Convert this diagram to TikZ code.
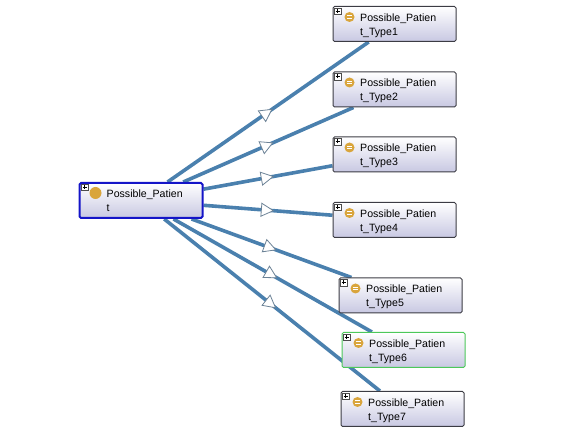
\documentclass[tikz,border=0pt]{standalone}
\usepackage{fontspec}
\setmainfont{Liberation Sans}
\usepackage{xcolor}
\usetikzlibrary{arrows.meta,positioning,backgrounds,shapes.geometric}
\definecolor{linkblue}{HTML}{4A80AE}
\definecolor{iconyellow}{HTML}{D9A53C}
\definecolor{boxlow}{HTML}{C8C8E2}
\definecolor{boxedge}{HTML}{3C3C44}
\definecolor{mainedge}{HTML}{1414C8}
\definecolor{pickedge}{HTML}{4CC85A}
\definecolor{triedge}{HTML}{6C8296}

\begin{document}
\begin{tikzpicture}[
  x=1pt,y=-1pt,
  classbox/.style={draw=boxedge,line width=1pt,rounded corners=1.5pt,top color=white,bottom color=boxlow,
    minimum width=123pt,minimum height=35pt,inner sep=0pt},
  mainbox/.style={classbox,draw=mainedge,line width=2pt},
  pickbox/.style={classbox,draw=pickedge},
  boxtext/.style={anchor=north west,align=left,inner sep=0pt,font=\fontsize{10.6}{14}\selectfont},
  plusbox/.style={draw=black!70,fill=white,line width=0.4pt,minimum size=6.5pt,inner sep=0pt,
    path picture={\draw[black,line width=0.6pt]
      ([xshift=-2pt]path picture bounding box.center) -- ([xshift=2pt]path picture bounding box.center)
      ([yshift=-2pt]path picture bounding box.center) -- ([yshift=2pt]path picture bounding box.center);}},
  defined/.style={circle,fill=iconyellow,minimum size=10pt,inner sep=0pt,
    path picture={\draw[white,line width=0.9pt]
      ([shift={(-2.5pt,1.3pt)}]path picture bounding box.center) -- ([shift={(2.5pt,1.3pt)}]path picture bounding box.center)
      ([shift={(-2.5pt,-1.3pt)}]path picture bounding box.center) -- ([shift={(2.5pt,-1.3pt)}]path picture bounding box.center);}},
  primitive/.style={circle,fill=iconyellow,minimum size=12pt,inner sep=0pt},
  link/.style={linkblue,line width=3.6pt},
  hollow/.style={isosceles triangle,isosceles triangle stretches,draw=triedge,fill=white,line width=0.8pt,
    minimum width=13pt,minimum height=12pt,inner sep=0pt,sloped,allow upside down}
]
  \useasboundingbox (0,0) rectangle (584,435);

  \node[mainbox] (main) at (141,200.5) {};
  \node[classbox] (type1) at (394.5,24) {};
  \node[classbox] (type2) at (394.5,89.5) {};
  \node[classbox] (type3) at (394.5,154.5) {};
  \node[classbox] (type4) at (394.5,220) {};
  \node[classbox] (type5) at (400.5,295.5) {};
  \node[pickbox] (type6) at (403.5,350) {};
  \node[classbox] (type7) at (402.5,409) {};

  \node[boxtext] (maintext) at ([shift={(28,8)}]main.north west) {Possible\_Patien\\t};
  \node[plusbox] (mainplus) at ([shift={(6,5)}]main.north west) {};
  \node[primitive] (mainicon) at ([shift={(17,11)}]main.north west) {};
  \foreach \t/\s in {type1/1,type2/2,type3/3,type4/4,type5/5,type6/6,type7/7}{
    \node[boxtext] (\t text) at ([shift={(27.5,7.5)}]\t.north west) {Possible\_Patien\\t\_Type\s};
    \node[plusbox] (\t plus) at ([shift={(5,5)}]\t.north west) {};
    \node[defined] (\t icon) at ([shift={(17,11)}]\t.north west) {};
  }

  \begin{scope}[on background layer]
    \foreach \t in {type1,type2,type3,type4,type5,type6,type7}{
      \draw[link] (main) -- (\t);
    }
  \end{scope}

  % white triangles sit half way between the box centres
  \foreach \t in {type1,type2,type3,type4,type5,type6,type7}{
    \path (main.center) -- node[hollow,pos=0.49] (\t tip) {} (\t.center);
  }
\end{tikzpicture}
\end{document}
